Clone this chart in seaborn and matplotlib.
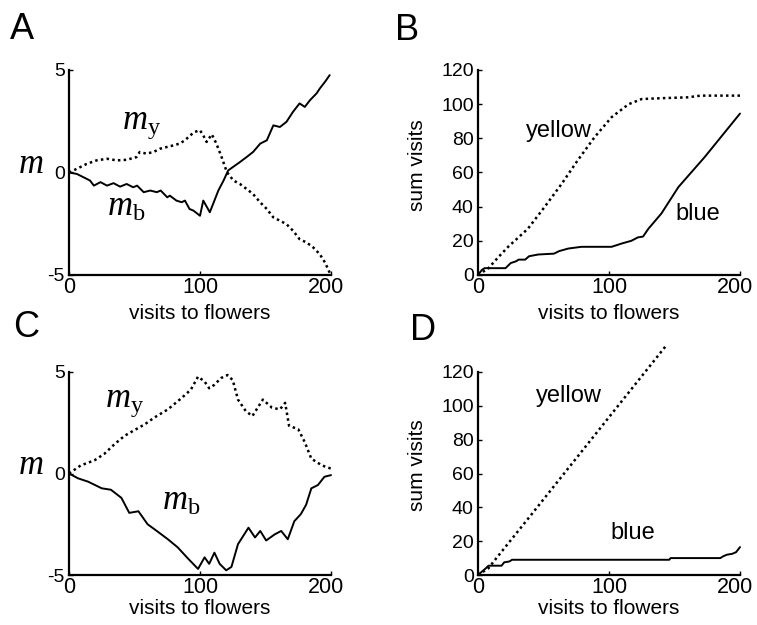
import matplotlib
matplotlib.use("Agg")
import matplotlib.pyplot as plt
import matplotlib.transforms as mtransforms
import seaborn as sns
import pandas as pd

# ---------------- data ----------------
# Panel A: m_b (solid) and m_y (dotted)
a_mb_x = [0, 6, 11, 16, 19, 24, 29, 34, 39, 44, 49, 52, 57, 62, 67, 70, 75, 77, 82, 86,
          88.5, 92, 95, 100, 102.5, 107.5, 114, 118, 121.5, 125, 130.5, 135.5, 140.5, 146,
          151, 156, 161, 166, 171, 176, 180, 184, 189, 191.5, 195.5, 199]
a_mb_y = [0, -0.07, -0.23, -0.39, -0.64, -0.47, -0.64, -0.52, -0.69, -0.56, -0.72, -0.64,
          -0.96, -0.88, -0.96, -0.88, -1.21, -1.13, -1.37, -1.45, -1.37, -1.78, -1.86, -2.11,
          -1.37, -1.94, -0.88, -0.39, 0.1, 0.26, 0.51, 0.75, 1.0, 1.41, 1.57, 2.3, 2.22, 2.47,
          2.96, 3.37, 3.2, 3.53, 3.86, 4.1, 4.43, 4.75]
a_my_x = [0, 6, 13.5, 21, 29, 36.5, 44, 51.5, 54, 59, 64.5, 69.5, 74.5, 79.5, 84.5, 88.5,
          92.5, 96, 100, 102.5, 105, 109, 112.5, 116.5, 120.5, 125.5, 130.5, 135.5, 140.5,
          146, 151, 156, 161, 166, 171, 176, 181.5, 186.5, 191.5, 195.5, 199]
a_my_y = [0, 0.18, 0.42, 0.59, 0.67, 0.59, 0.62, 0.75, 1.0, 0.92, 1.0, 1.16, 1.24, 1.32,
          1.41, 1.57, 1.81, 1.98, 2.06, 1.81, 1.49, 1.86, 1.41, 0.75, 0.02, -0.39, -0.56,
          -0.8, -1.05, -1.46, -1.78, -2.19, -2.35, -2.52, -2.84, -3.25, -3.42, -3.66, -3.99,
          -4.4, -4.89]

# Panel B: cumulative visits
b_yel_x = [0, 8, 15, 23, 38, 51, 64, 76, 89, 102, 115, 125, 140, 160, 170, 200]
b_yel_y = [0, 4, 10, 16.5, 27, 40, 53.5, 67, 80.7, 92.4, 100, 103, 103.5, 104, 105, 105]
b_blu_x = [0, 3, 5, 21, 25, 29, 31, 36, 39, 46, 58, 62, 69, 79, 102, 110, 117, 122, 126,
           130, 140, 153, 173, 200]
b_blu_y = [0, 3, 4, 4, 7, 8, 9, 9, 11, 12, 12.5, 14, 15.5, 16.5, 16.5, 18.5, 20, 22,
           22.5, 27, 36, 51.5, 69, 94.5]

# Panel C: m_b (solid) and m_y (dotted)
c_mb_x = [0, 7, 14.5, 25, 32, 40, 46, 53, 60, 67, 75.5, 83, 91, 98.5, 103.5, 107, 111,
          115, 120, 124, 129, 137, 142, 146, 150.5, 157, 162, 167, 172, 177, 181, 185, 190,
          195, 200]
c_mb_y = [0, -0.24, -0.4, -0.73, -0.8, -1.2, -1.94, -1.86, -2.5, -2.83, -3.24, -3.64, -4.2,
          -4.7, -4.13, -4.45, -3.9, -4.45, -4.77, -4.6, -3.48, -2.67, -3.15, -2.83, -3.3,
          -3.0, -2.83, -3.24, -2.35, -2.0, -1.54, -0.73, -0.57, -0.16, -0.08]
c_my_x = [0, 9, 19.5, 27, 35, 42.5, 49, 58, 65, 75.5, 86, 93, 98.5, 103.5, 107, 111, 116,
          121, 125, 129, 135, 140, 144, 148, 155, 161, 165, 168, 175, 180, 185, 193, 200]
c_my_y = [0, 0.4, 0.65, 0.97, 1.46, 1.86, 2.1, 2.43, 2.75, 3.16, 3.72, 4.13, 4.77, 4.53,
          4.2, 4.37, 4.7, 4.85, 4.6, 3.64, 3.07, 2.83, 3.24, 3.64, 3.24, 3.16, 3.48, 2.35,
          2.18, 1.54, 0.73, 0.4, 0.24]

# Panel D: cumulative visits
d_yel_x = [0, 4, 8, 12, 40, 75, 110, 143]
d_yel_y = [0, 2, 4, 8, 35, 69, 103, 135]
d_blu_x = [0, 3, 6, 8, 18, 20, 24, 26, 146, 147, 185, 187, 190, 194, 197, 200]
d_blu_y = [0, 2, 4, 5.5, 5.5, 7.5, 8, 9, 9, 10, 10, 11, 12, 12.5, 13.5, 16.5]

x_ticks = [0, 100, 200]
m_ticks = [-5, 0, 5]
s_ticks = [0, 20, 40, 60, 80, 100, 120]
x_label = "visits to flowers"
s_label = "sum visits"

# ---------------- style ----------------
sns.set_theme(style="ticks")
plt.rcParams["font.family"] = ["Liberation Sans", "DejaVu Sans"]
plt.rcParams["mathtext.fontset"] = "custom"
plt.rcParams["mathtext.it"] = "Liberation Serif:italic"
plt.rcParams["mathtext.rm"] = "Liberation Serif"
plt.rcParams["axes.unicode_minus"] = False
plt.rcParams["text.color"] = "black"
plt.rcParams["axes.labelcolor"] = "black"

W, H = 757, 625
fig = plt.figure(figsize=(W / 100, H / 100), dpi=100)
fig.patch.set_facecolor("white")


def add_ax(l, t, r, b):
    return fig.add_axes([l / W, 1 - b / H, (r - l) / W, (b - t) / H])


def style(ax, ylim, yticks, xpad):
    ax.set_xlim(0, 200)
    ax.set_ylim(*ylim)
    ax.set_xticks(x_ticks)
    ax.set_yticks(yticks)
    sns.despine(ax=ax)
    for s in ("left", "bottom"):
        ax.spines[s].set_linewidth(1.6)
        ax.spines[s].set_color("black")
    ax.tick_params(direction="in", length=3, width=1, colors="black")
    ax.tick_params(axis="x", labelsize=15.5, pad=1.5)
    ax.tick_params(axis="y", labelsize=14, pad=3)
    ax.set_facecolor("white")
    ax.set_xlabel(x_label, fontsize=15, labelpad=xpad, color="black")
    # nudge the last x tick label slightly left, as in the reference
    lab = ax.get_xticklabels()[-1]
    lab.set_transform(lab.get_transform() +
                      mtransforms.ScaledTranslation(-5 / 100, 0, fig.dpi_scale_trans))


SOLID = dict(color="black", lw=1.4, estimator=None, sort=False, clip_on=False)
DOT = dict(color="black", lw=1.8, estimator=None, sort=False, clip_on=False,
           linestyle=(0, (1, 1.3)))

axA = add_ax(69, 70, 331, 275)
axB = add_ax(478, 70, 740, 275)
axC = add_ax(69, 372, 331, 575)
axD = add_ax(478, 372, 740, 575)

# A
sns.lineplot(x=a_mb_x, y=a_mb_y, ax=axA, **SOLID)
sns.lineplot(x=a_my_x, y=a_my_y, ax=axA, **DOT)
style(axA, (-5, 5), m_ticks, 4)
axA.text(40.5, 2.15, r"$m_{\mathrm{y}}$", fontsize=25, ha="left", va="baseline")
axA.text(29, -2.1, r"$m_{\mathrm{b}}$", fontsize=25, ha="left", va="baseline")

# B
sns.lineplot(x=b_yel_x, y=b_yel_y, ax=axB, **DOT)
sns.lineplot(x=b_blu_x, y=b_blu_y, ax=axB, **SOLID)
style(axB, (0, 120), s_ticks, 4)
axB.text(36.6, 81, "yellow", fontsize=17, ha="left", va="baseline")
axB.text(151, 32, "blue", fontsize=17, ha="left", va="baseline")

# C
sns.lineplot(x=c_mb_x, y=c_mb_y, ax=axC, **SOLID)
sns.lineplot(x=c_my_x, y=c_my_y, ax=axC, **DOT)
style(axC, (-5, 5), m_ticks, 0.3)
axC.text(27.5, 3.3, r"$m_{\mathrm{y}}$", fontsize=25, ha="left", va="baseline")
axC.text(71, -1.8, r"$m_{\mathrm{b}}$", fontsize=25, ha="left", va="baseline")

# D
sns.lineplot(x=d_yel_x, y=d_yel_y, ax=axD, **DOT)
sns.lineplot(x=d_blu_x, y=d_blu_y, ax=axD, **SOLID)
style(axD, (0, 120), s_ticks, 0.3)
axD.text(44, 102, "yellow", fontsize=17, ha="left", va="baseline")
axD.text(101, 21, "blue", fontsize=17, ha="left", va="baseline")

# y labels
for ax, yy in ((axA, 0.4976), (axC, 0.5)):
    ax.set_ylabel(r"$m$", fontsize=25, rotation=0, ha="center", va="baseline")
    ax.yaxis.set_label_coords(-0.145, yy)
for ax, yy in ((axB, 0.537), (axD, 0.541)):
    ax.set_ylabel(s_label, fontsize=15, color="black")
    ax.yaxis.set_label_coords(-0.195, yy)

# panel letters
for lab, x, y in (("A", 10, 39), ("B", 395, 40), ("C", 13, 337), ("D", 410, 340)):
    fig.text(x / W, 1 - y / H, lab, fontsize=26, ha="left", va="baseline", color="black")

fig.savefig("out.png", dpi=100, facecolor="white")
